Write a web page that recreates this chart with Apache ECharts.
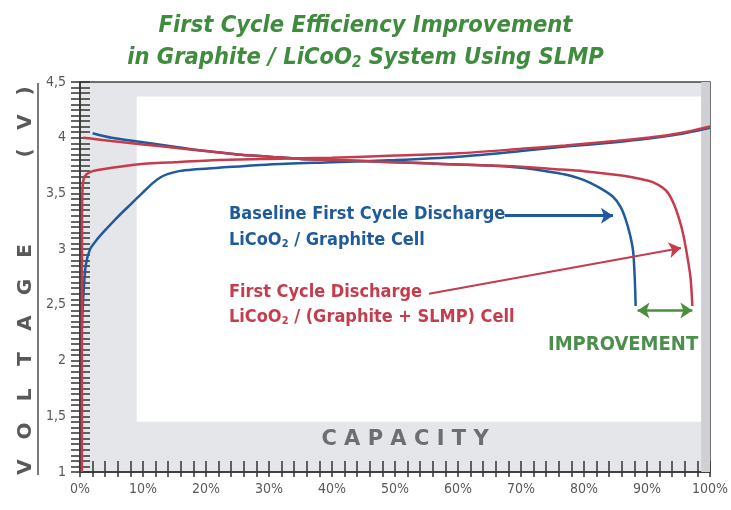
<!DOCTYPE html>
<html>
<head>
<meta charset="utf-8">
<script src="https://cdn.jsdelivr.net/npm/echarts@6/dist/echarts.min.js"></script>
<style>
html,body{margin:0;padding:0;background:#fff;}
#chart{width:731px;height:510px;}
</style>
</head>
<body>
<div id="chart"></div>
<script>
// capacity (%) / voltage (V)
var baseDisCap = [2, 5, 10, 15, 20, 25, 30, 35, 40, 45, 50, 55, 60, 65, 70, 74, 77, 80, 82.5, 84.6, 85.8, 86.6, 87.3, 87.8, 88.05, 88.2];
var baseDisVolt = [4.04, 4.00, 3.96, 3.92, 3.88, 3.85, 3.83, 3.81, 3.80, 3.79, 3.78, 3.77, 3.76, 3.75, 3.73, 3.70, 3.67, 3.62, 3.55, 3.47, 3.38, 3.27, 3.13, 2.98, 2.75, 2.49];

var baseChgCap = [0.3, 0.5, 0.9, 1.6, 2.6, 4, 6, 8, 10, 11.5, 12.8, 14, 15.7, 18, 22, 30, 40, 50, 60, 70, 77, 85, 90, 95, 100];
var baseChgVolt = [2.3, 2.55, 2.85, 3.0, 3.08, 3.17, 3.29, 3.40, 3.51, 3.59, 3.645, 3.675, 3.70, 3.715, 3.73, 3.76, 3.78, 3.80, 3.83, 3.88, 3.92, 3.96, 3.99, 4.03, 4.09];

var slmpDisCap = [0.5, 2, 5, 10, 15, 20, 25, 30, 35, 40, 45, 50, 55, 60, 65, 70, 75, 80, 86, 89, 91, 92.5, 93.4, 94.3, 95, 95.6, 96.2, 96.9, 97.2];
var slmpDisVolt = [4.00, 3.99, 3.97, 3.94, 3.91, 3.88, 3.85, 3.83, 3.81, 3.80, 3.79, 3.78, 3.77, 3.76, 3.75, 3.74, 3.72, 3.70, 3.66, 3.63, 3.60, 3.55, 3.50, 3.40, 3.29, 3.17, 3.00, 2.75, 2.49];

var slmpChgCap = [0.3, 0.32, 0.4, 0.6, 1, 2, 5, 9, 15, 22, 30, 40, 50, 60, 70, 77, 85, 90, 93, 97, 100];
var slmpChgVolt = [1.0, 3.2, 3.55, 3.63, 3.67, 3.70, 3.73, 3.76, 3.78, 3.80, 3.81, 3.82, 3.84, 3.86, 3.90, 3.93, 3.97, 4.00, 4.02, 4.06, 4.10];

// arrows in data units [cap, volt]
var baseArrow = [[67.4, 3.30], [84.6, 3.30]];
var slmpArrow = [[55.4, 2.60], [95.4, 3.01]];
var gainArrow = [[88.5, 2.45], [97.2, 2.45]];

var xTicks = [0, 100, 10];
var yTicks = [1, 4.5, 0.5];

var NARROW = "'Liberation Sans Narrow', 'DejaVu Sans Condensed', sans-serif";
var BLUE = '#1e5a9c';
var RED = '#c53c4c';
var GREEN = '#3f8c3f';
var GREY = '#58595b';

function zip(a, b){
	return a.map(function(v, i){ return [v, b[i]]; });
}

function curve(name, cap, volt, color, z){
	return {
		name: name,
		type: 'line',
		data: zip(cap, volt),
		showSymbol: false,
		smooth: 0.25,
		z: z,
		lineStyle: {color: color, width: 2.5},
		animation: false
	};
}

function arrow(pts, color, width, both){
	return {
		silent: true,
		symbol: [both ? 'arrow' : 'none', 'arrow'],
		symbolSize: 12,
		label: {show: false},
		lineStyle: {color: color, width: width, type: 'solid'},
		animation: false,
		data: [[{coord: pts[0]}, {coord: pts[1]}]]
	};
}

function note(x, y, text, color, size){
	return {
		type: 'text', x: x, y: y, z: 50,
		style: {
			text: text, fill: color,
			fontSize: size, fontWeight: 'bold', fontFamily: NARROW,
			textVerticalAlign: 'middle',
			rich: {s: {fontSize: 11, fontWeight: 'bold', fontFamily: NARROW, fill: color, padding: [8, 0, 0, 0]}}
		}
	};
}

var graphics = [];
// rotated axis word
var word1 = ['V', 'O', 'L', 'T', 'A', 'G', 'E'];
word1.forEach(function(c, i){
	graphics.push({type: 'text', x: 26, y: 467 - i * 36, rotation: Math.PI / 2,
		style: {text: c, fill: GREY, fontSize: 20, fontWeight: 'bold', fontFamily: 'DejaVu Sans', textAlign: 'center', textVerticalAlign: 'middle'}});
});
var word2 = ['(', 'V', ')'];
word2.forEach(function(c, i){
	graphics.push({type: 'text', x: 26, y: 153 - i * 31, rotation: Math.PI / 2,
		style: {text: c, fill: GREY, fontSize: 20, fontWeight: 'bold', fontFamily: 'DejaVu Sans', textAlign: 'center', textVerticalAlign: 'middle'}});
});
graphics.push({type: 'line', shape: {x1: 38, y1: 83, x2: 38, y2: 475}, style: {stroke: '#7a7a7a', lineWidth: 2}});

graphics.push(note(229, 214, 'Baseline First Cycle Discharge', BLUE, 18));
graphics.push(note(229, 240, 'LiCoO{s|2} / Graphite Cell', BLUE, 18));
graphics.push(note(229, 292, 'First Cycle Discharge', RED, 18));
graphics.push(note(229, 317, 'LiCoO{s|2} / (Graphite + SLMP) Cell', RED, 18));
graphics.push({type: 'text', x: 548, y: 345, z: 50,
	style: {text: 'IMPROVEMENT', fill: '#4c8f4c', fontSize: 20, fontWeight: 'bold', fontFamily: NARROW, textVerticalAlign: 'middle'}});
graphics.push({type: 'text', x: 405, y: 440,
	style: {text: 'C A P A C I T Y', fill: '#6d6e71', fontSize: 21, fontWeight: 'bold', fontFamily: 'DejaVu Sans', textAlign: 'center', textVerticalAlign: 'middle'}});

var chart = echarts.init(document.getElementById('chart'));

var bgSeries = {
	type: 'line',
	data: [[0, 1]],
	showSymbol: false,
	lineStyle: {opacity: 0},
	z: 1,
	silent: true,
	animation: false,
	markArea: {
		silent: true,
		animation: false,
		data: [
			[{coord: [9, 1.45], itemStyle: {color: '#ffffff'}}, {coord: [98.6, 4.37]}],
			[{coord: [98.6, 1], itemStyle: {color: '#cfd0d3'}}, {coord: [100, 4.5]}]
		]
	}
};

var s1 = curve('base discharge', baseDisCap, baseDisVolt, BLUE, 3);
s1.markLine = arrow(baseArrow, BLUE, 3, false);
var s2 = curve('base charge', baseChgCap, baseChgVolt, BLUE, 3);
var s3 = curve('slmp charge', slmpChgCap, slmpChgVolt, RED, 4);
var s4 = curve('slmp discharge', slmpDisCap, slmpDisVolt, RED, 4);
s4.markLine = arrow(slmpArrow, RED, 2, false);
var s5 = {type: 'line', data: [], z: 4, markLine: arrow(gainArrow, '#4a8f3a', 2.5, true)};

chart.setOption({
	animation: false,
	backgroundColor: '#ffffff',
	title: {
		text: 'First Cycle Efficiency Improvement\nin Graphite / LiCoO{s|2} System Using SLMP',
		left: 'center',
		top: 5,
		textStyle: {
			color: GREEN, fontSize: 23.5, fontWeight: 'bold', fontStyle: 'italic',
			fontFamily: NARROW, lineHeight: 32,
			rich: {s: {fontSize: 15, color: GREEN, fontWeight: 'bold', fontStyle: 'italic', fontFamily: NARROW, padding: [11, 0, 0, 0]}}
		}
	},
	grid: {
		left: 80, right: 15, top: 82, bottom: 38,
		show: true, backgroundColor: '#e5e6ea', borderColor: '#444', borderWidth: 1.5
	},
	xAxis: [{
		type: 'value', min: xTicks[0], max: xTicks[1], interval: xTicks[2],
		axisLine: {lineStyle: {color: '#333', width: 1.5}},
		axisTick: {length: 5, lineStyle: {color: '#333', width: 1.5}},
		minorTick: {show: true, splitNumber: 5, length: 5, lineStyle: {color: '#333', width: 1.5}},
		splitLine: {show: false},
		axisLabel: {color: GREY, fontSize: 14, fontFamily: NARROW, margin: 10, formatter: function(v){ return v + '%'; }}
	}, {
		type: 'value', position: 'bottom', min: xTicks[0], max: xTicks[1], interval: xTicks[2],
		axisLine: {show: false},
		axisTick: {inside: true, length: 11, lineStyle: {color: '#333', width: 1.5}},
		minorTick: {show: true, splitNumber: 5, length: 11, lineStyle: {color: '#333', width: 1.5}},
		splitLine: {show: false},
		axisLabel: {show: false}
	}],
	yAxis: [{
		type: 'value', min: yTicks[0], max: yTicks[1], interval: yTicks[2],
		axisLine: {show: true, lineStyle: {color: '#333', width: 1.5}},
		axisTick: {show: true, length: 9, lineStyle: {color: '#333', width: 1.5}},
		minorTick: {show: true, splitNumber: 10, length: 9, lineStyle: {color: '#333', width: 1.5}},
		splitLine: {show: false},
		axisLabel: {color: GREY, fontSize: 14, fontFamily: NARROW, margin: 14,
			formatter: function(v){ return String(v).replace('.', ','); }}
	}, {
		type: 'value', position: 'left', min: yTicks[0], max: yTicks[1], interval: yTicks[2],
		axisLine: {show: false},
		axisTick: {show: true, inside: true, length: 10, lineStyle: {color: '#333', width: 1.5}},
		minorTick: {show: true, splitNumber: 10, length: 10, lineStyle: {color: '#333', width: 1.5}},
		splitLine: {show: false},
		axisLabel: {show: false}
	}],
	graphic: graphics,
	series: [bgSeries, s2, s1, s3, s4, s5]
});
</script>
</body>
</html>
